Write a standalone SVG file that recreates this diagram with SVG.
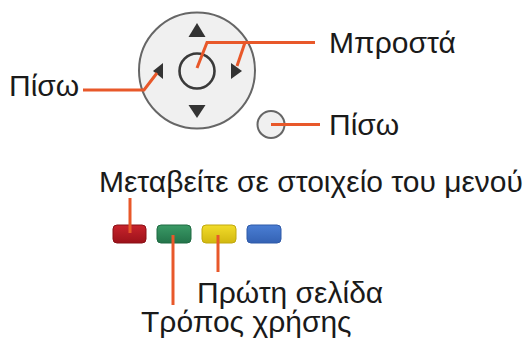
<svg xmlns="http://www.w3.org/2000/svg" width="528" height="340" viewBox="0 0 528 340">
<defs>
<style>
.t{font-family:"Liberation Sans",Arial,sans-serif;font-size:30px;fill:#1a1a1a}
.ld{fill:none;stroke:#e8582a;stroke-width:3;stroke-linejoin:miter}
.tri{fill:#333}
.btn{stroke-width:1}
</style>
<linearGradient id="gr" x1="0" y1="0" x2="0" y2="1"><stop offset="0" stop-color="#c8232c"/><stop offset="1" stop-color="#9c121a"/></linearGradient>
<linearGradient id="gg" x1="0" y1="0" x2="0" y2="1"><stop offset="0" stop-color="#3a9a66"/><stop offset="1" stop-color="#23744a"/></linearGradient>
<linearGradient id="gy" x1="0" y1="0" x2="0" y2="1"><stop offset="0" stop-color="#f2dc2a"/><stop offset="1" stop-color="#d2b810"/></linearGradient>
<linearGradient id="gb" x1="0" y1="0" x2="0" y2="1"><stop offset="0" stop-color="#4a7ed4"/><stop offset="1" stop-color="#3462b4"/></linearGradient>
</defs>
<g id="dpad">
<circle cx="197" cy="70.5" r="58" fill="#f0f0f0" stroke="#666" stroke-width="2"/>
<circle cx="197" cy="71" r="17.5" fill="none" stroke="#3a3a3a" stroke-width="2.6"/>
<polygon class="tri" points="197,23 188.5,37 205.5,37"/>
<polygon class="tri" points="188.5,105 205.5,105 197,118"/>
<polygon class="tri" points="153,71 163,63 163,79"/>
<polygon class="tri" points="231,63 231,79 242,71"/>
</g>
<g id="back-button">
<circle cx="271" cy="124.5" r="13.5" fill="#f0f0f0" stroke="#666" stroke-width="2"/>
</g>
<g id="buttons">
<rect class="btn" x="113" y="225" width="33" height="18" rx="4" fill="url(#gr)" stroke="#8a1016"/>
<rect class="btn" x="157" y="225" width="34" height="18" rx="4" fill="url(#gg)" stroke="#1f6a42"/>
<rect class="btn" x="202" y="225" width="34" height="18" rx="4" fill="url(#gy)" stroke="#c0a80e"/>
<rect class="btn" x="247" y="225" width="34" height="18" rx="4" fill="url(#gb)" stroke="#2f5aa8"/>
</g>
<g id="connectors">
<polyline class="ld" points="83,90 144,90 157,73"/>
<polyline class="ld" points="315,42.5 207,42.5 197,68"/>
<polyline class="ld" points="245,42.5 237,66"/>
<polyline class="ld" points="271,124.5 320,124.5"/>
<polyline class="ld" points="130,198 130,233"/>
<polyline class="ld" points="173,235 173,305"/>
<polyline class="ld" points="218,235 218,272"/>
</g>
<g id="labels">
<text class="t" x="9" y="96">Πίσω</text>
<text class="t" x="329" y="53">Μπροστά</text>
<text class="t" x="329" y="135">Πίσω</text>
<text class="t" x="99" y="192">Μεταβείτε σε στοιχείο του μενού</text>
<text class="t" x="197" y="303">Πρώτη σελίδα</text>
<text class="t" x="141" y="332">Τρόπος χρήσης</text>
</g>
</svg>
